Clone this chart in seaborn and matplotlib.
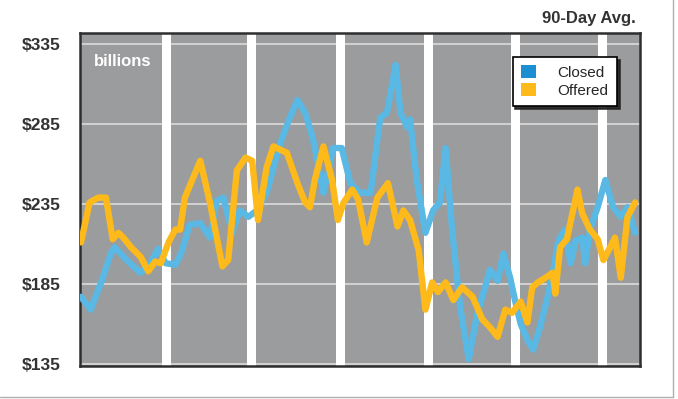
import pandas as pd
import matplotlib.pyplot as plt
import seaborn as sns
from matplotlib.patches import Patch
from matplotlib.lines import Line2D

# days since start, values in $ billions (90-day average)
closed_days = [1, 11, 22, 32, 36, 50, 63, 73, 81, 89, 99, 105, 114, 125, 135, 142, 149, 158,
               166, 175, 184, 194, 208, 218, 226, 234, 242, 248, 253, 263, 272, 281, 291, 302,
               312, 319, 328, 333, 340, 343, 350, 359, 367, 374, 380, 387, 395, 404, 413, 421,
               426, 434, 440, 447, 452, 458, 465, 471, 478, 486, 492, 497, 504, 510, 515, 522,
               525, 530, 538, 546, 554, 562, 569, 577]
closed_vals = [177, 169, 186, 204, 208, 199, 192, 198, 207, 198, 197, 204, 222, 223, 214, 237, 239, 217,
               231, 227, 231, 242, 273, 289, 300, 292, 276, 258, 242, 270, 270, 248, 242, 242,
               289, 292, 322, 292, 283, 288, 250, 217, 231, 236, 270, 217, 171, 138, 167, 183,
               194, 187, 204, 189, 175, 160, 150, 144, 158, 177, 194, 212, 219, 198, 212, 214,
               198, 219, 233, 250, 233, 227, 233, 217]

offered_days = [1, 10, 19, 27, 34, 40, 45, 53, 63, 71, 78, 84, 92, 99, 104, 109, 118, 125,
                135, 148, 154, 163, 172, 179, 185, 194, 201, 215, 226, 234, 239, 244, 253, 262,
                268, 274, 283, 289, 298, 309, 320, 330, 336, 343, 352, 359, 366, 372, 380, 388,
                397, 408, 418, 426, 434, 442, 449, 458, 465, 470, 476, 484, 491, 494, 499, 506,
                517, 522, 530, 538, 544, 551, 556, 562, 569, 577]
offered_vals = [211, 236, 239, 239, 213, 217, 214, 208, 202, 193, 199, 198, 211, 219, 219, 239, 252, 262,
                236, 196, 200, 256, 264, 262, 225, 258, 271, 267, 248, 236, 233, 250, 271, 250,
                225, 236, 244, 238, 211, 239, 248, 221, 231, 225, 206, 169, 186, 180, 186, 175,
                183, 177, 163, 158, 152, 169, 167, 174, 161, 183, 186, 189, 192, 179, 208, 213,
                244, 229, 219, 213, 200, 208, 214, 189, 227, 236]

quarter_days = [89, 178, 270, 362, 452, 543]
y_ticks = [135, 185, 235, 285, 335]
y_labels = ['$135', '$185', '$235', '$285', '$335']

df = pd.concat([
    pd.DataFrame({'day': closed_days, 'value': closed_vals, 'series': 'Closed'}),
    pd.DataFrame({'day': offered_days, 'value': offered_vals, 'series': 'Offered'}),
])

sns.set_style('white')
plt.rcParams['font.family'] = ['Liberation Sans', 'DejaVu Sans']

fig = plt.figure(figsize=(6.78, 3.99), dpi=100)
ax = fig.add_axes([80 / 678, 33 / 399, 560 / 678, 333 / 399])
ax.set_facecolor('#9b9c9e')

for y in y_ticks:
    ax.axhline(y, color='#d6d6d6', lw=1.3, zorder=1)
for d in quarter_days:
    ax.axvline(d, color='white', lw=6.5, zorder=2)

line_colors = {'Closed': '#5ab8e4', 'Offered': '#fdba1a'}
sns.lineplot(data=df, x='day', y='value', hue='series', palette=line_colors,
             hue_order=['Closed', 'Offered'], linewidth=4.6, estimator=None,
             legend=False, ax=ax, zorder=3, solid_joinstyle='round')

ax.set_xlim(0, 582)
ax.set_ylim(133.75, 341.9)
ax.set_xticks([])
ax.set_yticks(y_ticks)
ax.set_yticklabels(y_labels, fontsize=12.5, fontweight='bold', color='#333333')
ax.tick_params(axis='y', length=0, pad=14)
ax.set_xlabel('')
ax.set_ylabel('')
for s in ax.spines.values():
    s.set_color('#2e2e2e')
    s.set_linewidth(1.8)

ax.text(0.024, 0.915, 'billions', transform=ax.transAxes, color='white',
        fontsize=12, fontweight='bold', va='center', ha='left', zorder=4)

handles = [Patch(facecolor='#1b8fd2', edgecolor='none', label='Closed'),
           Patch(facecolor='#fdba1a', edgecolor='none', label='Offered')]
leg = ax.legend(handles=handles, loc='upper right', bbox_to_anchor=(0.959, 0.928),
                borderaxespad=0, frameon=True, fancybox=False, fontsize=11,
                handlelength=1.0, handleheight=0.9, handletextpad=1.4,
                borderpad=0.55, labelspacing=0.2,
                shadow={'color': '#222222', 'alpha': 0.9})
leg.get_frame().set_edgecolor('black')
leg.get_frame().set_linewidth(1.2)
leg.set_zorder(5)

fig.text(636 / 678, 1 - 18 / 399, '90-Day Avg.', fontsize=12, fontweight='bold',
         color='#333333', ha='right', va='center')

fig.add_artist(Line2D([673 / 678, 673 / 678], [2 / 399, 1], color='#b0b0b0', lw=1))
fig.add_artist(Line2D([0, 673 / 678], [2 / 399, 2 / 399], color='#b0b0b0', lw=1))

fig.savefig('out.png', dpi=100)
